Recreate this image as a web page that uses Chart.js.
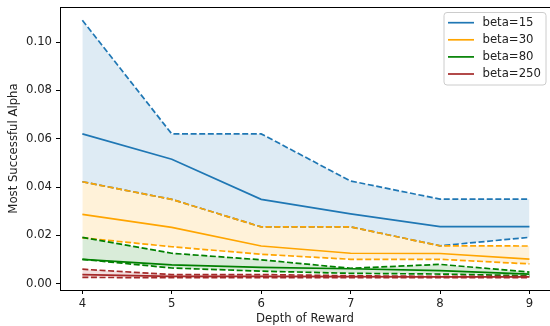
<!DOCTYPE html>
<html>
<head>
<meta charset="utf-8">
<script src="https://cdn.jsdelivr.net/npm/chart.js@4"></script>
<style>
  html, body { margin: 0; padding: 0; background: #fff; }
  #wrap { width: 550px; height: 326px; }
</style>
</head>
<body>
<div id="wrap"><canvas id="Grafico_Alpha"></canvas></div>
<script>
const depths = [4, 5, 6, 7, 8, 9];
const betaNames = ["beta=15", "beta=30", "beta=80", "beta=250"];

const medianB15 = [0.062, 0.0515, 0.0349, 0.0289, 0.0236, 0.0236];
const upperB15  = [0.109, 0.062, 0.062, 0.0425, 0.035, 0.035];
const lowerB15  = [0.0422, 0.0349, 0.0235, 0.0235, 0.0157, 0.0192];

const medianB30 = [0.0287, 0.0233, 0.0156, 0.0126, 0.0125, 0.0102];
const upperB30  = [0.0422, 0.0349, 0.0235, 0.0235, 0.0157, 0.0156];
const lowerB30  = [0.019, 0.0153, 0.0122, 0.0101, 0.0101, 0.0082];

const medianB80 = [0.0101, 0.0078, 0.0068, 0.0062, 0.0054, 0.004];
const upperB80  = [0.0192, 0.0126, 0.0099, 0.0064, 0.008, 0.0048];
const lowerB80  = [0.0101, 0.0065, 0.0052, 0.0043, 0.004, 0.0033];

const medianB250 = [0.0038, 0.003, 0.003, 0.0029, 0.0028, 0.0028];
const upperB250  = [0.006, 0.0038, 0.0038, 0.0033, 0.003, 0.003];
const lowerB250  = [0.0026, 0.0025, 0.0025, 0.0025, 0.0025, 0.0025];

const yTicks = [0, 0.02, 0.04, 0.06, 0.08, 0.10];

const lineColors = ["#1f77b4", "#ffa500", "#008000", "#a52a2a"];
const fillColors = ["rgba(31,119,180,0.15)", "rgba(255,165,0,0.15)", "rgba(0,128,0,0.15)", "rgba(165,42,42,0.15)"];

const medians = [medianB15, medianB30, medianB80, medianB250];
const uppers = [upperB15, upperB30, upperB80, upperB250];
const lowers = [lowerB15, lowerB30, lowerB80, lowerB250];

const FONT = "'DejaVu Sans', sans-serif";
const FSIZE = 11.7;

function pts(arr) {
  return depths.map((d, i) => ({ x: d, y: arr[i] }));
}

const datasets = [];
for (let s = 0; s < betaNames.length; s++) {
  const base = {
    borderColor: lineColors[s],
    borderWidth: 1.7,
    pointRadius: 0,
    tension: 0,
    order: 10 - s
  };
  datasets.push(Object.assign({}, base, {
    label: "upper",
    data: pts(uppers[s]),
    borderDash: [6, 2.6],
    fill: "+2",
    backgroundColor: fillColors[s]
  }));
  datasets.push(Object.assign({}, base, {
    label: betaNames[s],
    data: pts(medians[s]),
    fill: false
  }));
  datasets.push(Object.assign({}, base, {
    label: "lower",
    data: pts(lowers[s]),
    borderDash: [6, 2.6],
    fill: false
  }));
}

// frame on top + legend box like matplotlib
const framePlugin = {
  id: "frame",
  afterDraw(chart) {
    const ctx = chart.ctx;
    const a = chart.chartArea;
    ctx.save();
    ctx.strokeStyle = "#000";
    ctx.lineWidth = 1;
    ctx.beginPath();
    ctx.moveTo(a.left + 0.5, a.bottom);
    ctx.lineTo(a.left + 0.5, a.top + 0.5);
    ctx.lineTo(a.right, a.top + 0.5);
    ctx.stroke();

    // legend
    const bx = 444, by = 12.5, bw = 102, bh = 72.5, r = 3;
    ctx.fillStyle = "rgba(255,255,255,0.8)";
    ctx.strokeStyle = "#cccccc";
    ctx.beginPath();
    ctx.moveTo(bx + r, by);
    ctx.arcTo(bx + bw, by, bx + bw, by + bh, r);
    ctx.arcTo(bx + bw, by + bh, bx, by + bh, r);
    ctx.arcTo(bx, by + bh, bx, by, r);
    ctx.arcTo(bx, by, bx + bw, by, r);
    ctx.closePath();
    ctx.fill();
    ctx.stroke();
    ctx.font = FSIZE + "px " + FONT;
    ctx.textBaseline = "middle";
    ctx.textAlign = "left";
    for (let s = 0; s < betaNames.length; s++) {
      const y = 22.7 + s * 17.1;
      ctx.strokeStyle = lineColors[s];
      ctx.lineWidth = 1.7;
      ctx.beginPath();
      ctx.moveTo(448, y);
      ctx.lineTo(474, y);
      ctx.stroke();
      ctx.fillStyle = "#222";
      ctx.fillText(betaNames[s], 482.5, y);
    }
    ctx.restore();
  }
};

new Chart("Grafico_Alpha", {
  type: "line",
  data: { datasets: datasets },
  options: {
    responsive: true,
    maintainAspectRatio: false,
    animation: false,
    layout: { padding: { top: 7, right: 0, left: 0, bottom: 0 } },
    plugins: {
      legend: { display: false },
      tooltip: { enabled: false },
      filler: { propagate: false }
    },
    scales: {
      x: {
        type: "linear",
        min: 3.75,
        max: 9.23,
        afterBuildTicks: (axis) => { axis.ticks = depths.map(v => ({ value: v })); },
        afterFit: (axis) => { axis.height = 36; axis.paddingLeft = 0; axis.paddingRight = 0; },
        grid: { display: true, drawOnChartArea: false, drawTicks: true, tickLength: 4, color: "#000" },
        border: { display: true, color: "#000", width: 1 },
        ticks: {
          color: "#222",
          font: { family: FONT, size: FSIZE },
          padding: 3,
          maxRotation: 0,
          callback: (v) => String(v)
        },
        title: {
          display: true,
          text: "Depth of Reward",
          color: "#222",
          font: { family: FONT, size: FSIZE },
          padding: { top: 0, bottom: 0 }
        }
      },
      y: {
        min: -0.0026,
        max: 0.1145,
        afterBuildTicks: (axis) => { axis.ticks = yTicks.map(v => ({ value: v })); },
        afterFit: (axis) => { axis.width = 60; axis.paddingTop = 0; axis.paddingBottom = 0; },
        grid: { display: true, drawOnChartArea: false, drawTicks: true, tickLength: 4, color: "#000" },
        border: { display: true, color: "#000", width: 1 },
        ticks: {
          color: "#222",
          font: { family: FONT, size: FSIZE },
          padding: 4,
          callback: (v) => Number(v).toFixed(2)
        },
        title: {
          display: true,
          text: "Most Successful Alpha",
          color: "#222",
          font: { family: FONT, size: FSIZE },
          padding: { top: 7, bottom: 0 }
        }
      }
    }
  },
  plugins: [framePlugin]
});
</script>
</body>
</html>
